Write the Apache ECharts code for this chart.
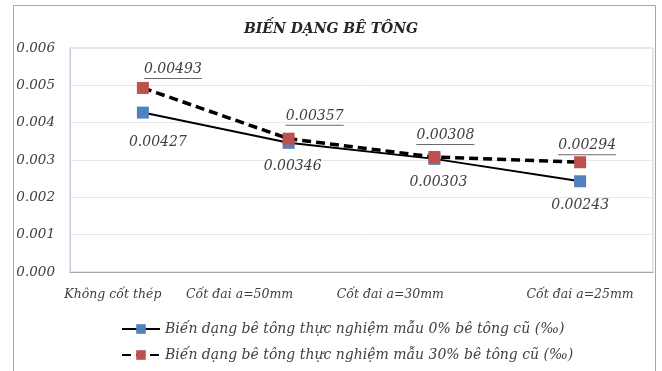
<!DOCTYPE html>
<html>
<head>
<meta charset="utf-8">
<script src="https://cdn.jsdelivr.net/npm/echarts@6/dist/echarts.min.js"></script>
<style>
html,body{margin:0;padding:0;background:#fff;}
#c{width:662px;height:371px;}
</style>
</head>
<body>
<div id="c"></div>
<script>
const title = 'BIẾN DẠNG BÊ TÔNG';
const categories = ['Không cốt thép', 'Cốt đai a=50mm', 'Cốt đai a=30mm', 'Cốt đai a=25mm'];
const seriesNames = ['Biến dạng bê tông thực nghiệm mẫu 0% bê tông cũ (‰)', 'Biến dạng bê tông thực nghiệm mẫu 30% bê tông cũ (‰)'];
const values0 = [0.00427, 0.00346, 0.00303, 0.00243];
const values30 = [0.00493, 0.00357, 0.00308, 0.00294];
const yTicks = { min: 0, max: 0.006, interval: 0.001 };

// label placement (style, not data)
const blueOffsets = [[15, 12], [4, 6], [4, 5], [0, 6]];
const redOffsets = [[30, 2], [26, -2], [11, -1], [7, 4]];
const catShift = [60, 98, 88, 0];

const font = 'DejaVu Serif';
const chart = echarts.init(document.getElementById('c'), null, { renderer: 'canvas' });

const rich = {};
catShift.forEach((s, i) => { rich['c' + i] = { padding: [0, s, 0, 0], fontFamily: font, fontStyle: 'italic', fontSize: 12.5, color: '#404040' }; });

chart.setOption({
  animation: false,
  backgroundColor: '#fff',
  graphic: [{
    type: 'rect', left: 11, top: 3, shape: { width: 642, height: 370 },
    style: { fill: 'none', stroke: '#a6a6a6', lineWidth: 1 }, silent: true
  }],
  title: {
    text: title, left: 'center', top: 17,
    textStyle: { fontFamily: font, fontStyle: 'italic', fontWeight: 'bold', fontSize: 14, color: '#262626' }
  },
  grid: { left: 70, top: 48, right: 9, bottom: 99, show: true, borderColor: '#c3cfdc', borderWidth: 1, backgroundColor: '#fff' },
  legend: {
    orient: 'vertical', left: 116, top: 317, itemGap: 12, itemWidth: 38, itemHeight: 12,
    data: seriesNames,
    textStyle: { fontFamily: font, fontStyle: 'italic', fontSize: 14, color: '#404040' }
  },
  xAxis: {
    type: 'category', data: categories, boundaryGap: true,
    axisLine: { lineStyle: { color: '#a6a6a6' } },
    axisTick: { show: false },
    axisLabel: {
      margin: 16, interval: 0,
      formatter: (v, i) => '{c' + i + '|' + v + '}', rich: rich
    }
  },
  yAxis: {
    type: 'value', min: yTicks.min, max: yTicks.max, interval: yTicks.interval,
    axisLine: { show: true, lineStyle: { color: '#c3cfdc' } },
    axisTick: { show: false },
    splitLine: { lineStyle: { color: '#e8e8e8' } },
    axisLabel: {
      margin: 15, formatter: v => v.toFixed(3),
      fontFamily: font, fontStyle: 'italic', fontSize: 13.5, color: '#404040'
    }
  },
  series: [
    {
      name: seriesNames[0], type: 'line', z: 3,
      data: values0.map((v, i) => ({ value: v, label: { offset: blueOffsets[i] } })),
      symbol: 'rect', symbolSize: 12,
      itemStyle: { color: '#4f81bd' },
      lineStyle: { color: '#000', width: 2 },
      label: {
        show: true, position: 'bottom', formatter: p => p.value.toFixed(5),
        fontFamily: font, fontStyle: 'italic', fontSize: 14, color: '#404040'
      }
    },
    {
      name: seriesNames[1], type: 'line', z: 4,
      data: values30.map((v, i) => ({ value: v, label: { offset: redOffsets[i] } })),
      symbol: 'rect', symbolSize: 12,
      itemStyle: { color: '#c0504d' },
      lineStyle: { color: '#000', width: 3.5, type: [9, 5] },
      label: {
        show: true, position: 'top',
        formatter: p => '{t|' + p.value.toFixed(5) + '}\n{u|}',
        rich: {
          t: { fontFamily: font, fontStyle: 'italic', fontSize: 14, color: '#404040', lineHeight: 17 },
          u: { width: 58, height: 1, backgroundColor: '#6a6a6a' }
        }
      }
    }
  ]
});
</script>
</body>
</html>
